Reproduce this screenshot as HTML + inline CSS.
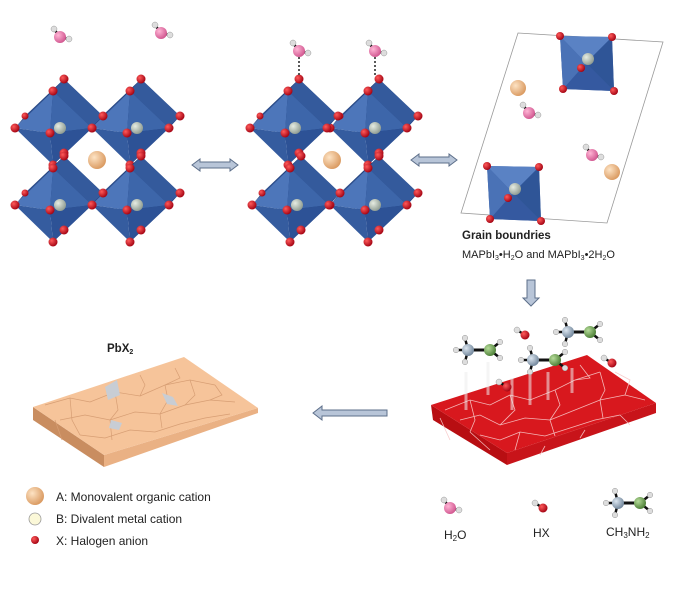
<!DOCTYPE html>
<html><head><meta charset="utf-8"><style>
html,body{margin:0;padding:0;background:#fff}
svg{display:block}
text{font-family:"Liberation Sans",Arial,sans-serif;fill:#222}
</style></head><body>
<svg width="690" height="599" viewBox="0 0 690 599" xmlns="http://www.w3.org/2000/svg">
<defs>
<radialGradient id="gA" cx="35%" cy="35%" r="70%"><stop offset="0" stop-color="#fde3c4"/><stop offset="1" stop-color="#d9985e"/></radialGradient>
<radialGradient id="gR" cx="35%" cy="35%" r="70%"><stop offset="0" stop-color="#ff5a5a"/><stop offset="1" stop-color="#a00010"/></radialGradient>
<radialGradient id="gB" cx="35%" cy="35%" r="70%"><stop offset="0" stop-color="#e6ece2"/><stop offset="1" stop-color="#8d9a90"/></radialGradient>
<radialGradient id="gP" cx="35%" cy="35%" r="70%"><stop offset="0" stop-color="#ffb5d5"/><stop offset="1" stop-color="#d0548e"/></radialGradient>
<radialGradient id="gC" cx="35%" cy="35%" r="70%"><stop offset="0" stop-color="#dce6f0"/><stop offset="1" stop-color="#6f8499"/></radialGradient>
<radialGradient id="gN" cx="35%" cy="35%" r="70%"><stop offset="0" stop-color="#b6dc9a"/><stop offset="1" stop-color="#4a7d34"/></radialGradient>
<g id="oct">
  <polygon points="-35,-12 4,-49 43,-12 4,25" fill="#24437e"/>
  <polygon points="-7,-37 4,-49 43,-12 32,0" fill="#345a9c"/>
  <polygon points="32,0 43,-12 4,25 -7,37" fill="#26478a"/>
  <polygon points="-45,0 -35,-12 -7,-37" fill="#2f5190"/>
  <polygon points="-45,0 -7,-37 -10,5" fill="#4d76ba"/>
  <polygon points="-7,-37 32,0 -10,5" fill="#3d66aa"/>
  <polygon points="32,0 -7,37 -10,5" fill="#2d5296"/>
  <polygon points="-7,37 -45,0 -10,5" fill="#355c9f"/>
  <circle cx="0" cy="0" r="6" fill="url(#gB)"/>
  <circle cx="-10" cy="5" r="4.5" fill="url(#gR)"/>
  <circle cx="-45" cy="0" r="4.5" fill="url(#gR)"/>
  <circle cx="-7" cy="-37" r="4.5" fill="url(#gR)"/>
  <circle cx="4" cy="-49" r="4.5" fill="url(#gR)"/>
  <circle cx="32" cy="0" r="4.5" fill="url(#gR)"/>
  <circle cx="43" cy="-12" r="4.5" fill="url(#gR)"/>
  <circle cx="-7" cy="37" r="4.5" fill="url(#gR)"/>
  <circle cx="4" cy="25" r="4.5" fill="url(#gR)"/>
  <circle cx="-35" cy="-12" r="3.5" fill="url(#gR)"/>
</g>
<g id="sq">
  <polygon points="-26,-27 26,-26 28,28 -23,26" fill="#3a61a6"/>
  <polygon points="-26,-27 26,-26 0,0" fill="#5a82c4"/>
  <polygon points="26,-26 28,28 0,0" fill="#2f5597"/>
  <polygon points="28,28 -23,26 0,0" fill="#3559a0"/>
  <polygon points="-23,26 -26,-27 0,0" fill="#4a72b6"/>
  <circle cx="2" cy="-4" r="6" fill="url(#gB)"/>
  <circle cx="-5" cy="5" r="4" fill="url(#gR)"/>
  <circle cx="-26" cy="-27" r="4" fill="url(#gR)"/>
  <circle cx="26" cy="-26" r="4" fill="url(#gR)"/>
  <circle cx="28" cy="28" r="4" fill="url(#gR)"/>
  <circle cx="-23" cy="26" r="4" fill="url(#gR)"/>
</g>
<g id="h2o">
  <line x1="0" y1="0" x2="-6" y2="-8" stroke="#111" stroke-width="2.5"/>
  <line x1="0" y1="0" x2="9" y2="2" stroke="#111" stroke-width="2.5"/>
  <circle cx="-6" cy="-8" r="3" fill="#ddd" stroke="#999" stroke-width=".5"/>
  <circle cx="9" cy="2" r="3" fill="#ddd" stroke="#999" stroke-width=".5"/>
  <circle cx="0" cy="0" r="6" fill="url(#gP)"/>
</g>
<g id="hx">
  <line x1="-8" y1="-5" x2="0" y2="0" stroke="#111" stroke-width="2.5"/>
  <circle cx="-8" cy="-5" r="3" fill="#ddd" stroke="#999" stroke-width=".5"/>
  <circle cx="0" cy="0" r="4.5" fill="url(#gR)"/>
</g>
<g id="ma">
  <line x1="0" y1="0" x2="22" y2="0" stroke="#111" stroke-width="3"/>
  <line x1="0" y1="0" x2="-12" y2="0" stroke="#111" stroke-width="2.5"/>
  <line x1="0" y1="0" x2="-3" y2="-12" stroke="#111" stroke-width="2.5"/>
  <line x1="0" y1="0" x2="-3" y2="12" stroke="#111" stroke-width="2.5"/>
  <line x1="22" y1="0" x2="32" y2="-8" stroke="#111" stroke-width="2.5"/>
  <line x1="22" y1="0" x2="32" y2="8" stroke="#111" stroke-width="2.5"/>
  <circle cx="-12" cy="0" r="2.8" fill="#ddd" stroke="#999" stroke-width=".5"/>
  <circle cx="-3" cy="-12" r="2.8" fill="#ddd" stroke="#999" stroke-width=".5"/>
  <circle cx="-3" cy="12" r="2.8" fill="#ddd" stroke="#999" stroke-width=".5"/>
  <circle cx="32" cy="-8" r="2.8" fill="#ddd" stroke="#999" stroke-width=".5"/>
  <circle cx="32" cy="8" r="2.8" fill="#ddd" stroke="#999" stroke-width=".5"/>
  <circle cx="0" cy="0" r="6" fill="url(#gC)"/>
  <circle cx="22" cy="0" r="6" fill="url(#gN)"/>
</g>
<g id="darr">
  <polygon points="0,0 8,-6 8,-3 38,-3 38,-6 46,0 38,6 38,3 8,3 8,6" fill="#b8c5d8" stroke="#5d6f8a" stroke-width="1"/>
</g>
</defs>

<use href="#oct" x="137" y="128"/>
<use href="#oct" x="60" y="128"/>
<use href="#oct" x="137" y="205"/>
<use href="#oct" x="60" y="205"/>
<circle cx="97" cy="160" r="9" fill="url(#gA)"/>
<use href="#h2o" x="60" y="37"/>
<use href="#h2o" x="161" y="33"/>

<use href="#darr" x="192" y="165"/>

<use href="#oct" x="375" y="128"/>
<use href="#oct" x="295" y="128"/>
<use href="#oct" x="375" y="205"/>
<use href="#oct" x="297" y="205"/>
<circle cx="332" cy="160" r="9" fill="url(#gA)"/>
<line x1="299" y1="57" x2="299" y2="76" stroke="#222" stroke-width="1.5" stroke-dasharray="2,2"/>
<line x1="375" y1="57" x2="375" y2="76" stroke="#222" stroke-width="1.5" stroke-dasharray="2,2"/>
<use href="#h2o" x="299" y="51"/>
<use href="#h2o" x="375" y="51"/>

<use href="#darr" x="411" y="160"/>

<polygon points="518,33 663,42 607,223 461,213" fill="none" stroke="#999" stroke-width="0.8"/>
<use href="#sq" x="586" y="63"/>
<use href="#sq" x="513" y="193"/>
<circle cx="518" cy="88" r="8" fill="url(#gA)"/>
<circle cx="612" cy="172" r="8" fill="url(#gA)"/>
<use href="#h2o" x="529" y="113"/>
<use href="#h2o" x="592" y="155"/>
<text x="462" y="239" font-size="11.5" font-weight="bold">Grain boundries</text>
<text x="462" y="258" font-size="11">MAPbI<tspan font-size="7" dy="2">3</tspan><tspan dy="-2">•H</tspan><tspan font-size="7" dy="2">2</tspan><tspan dy="-2">O and MAPbI</tspan><tspan font-size="7" dy="2">3</tspan><tspan dy="-2">•2H</tspan><tspan font-size="7" dy="2">2</tspan><tspan dy="-2">O</tspan></text>

<polygon points="527,280 535,280 535,298 539,298 531,306 523,298 527,298" fill="#b8c5d8" stroke="#5d6f8a"/>

<polygon points="431,405 507,453 507,465 433,420" fill="#b80e12"/>
<polygon points="507,453 656,403 656,413 507,465" fill="#c8141a"/>
<polygon points="431,405 587,355 656,403 507,453" fill="#d8181e"/>
<g stroke="#f8c8c8" stroke-width="0.8" fill="none" opacity="0.9">
<polyline points="445,410 470,400 490,405 510,395 530,400 555,390 575,380 600,372"/>
<polyline points="460,420 480,415 500,425 525,418 550,420 575,410 600,400 625,395 645,400"/>
<polyline points="480,435 500,440 520,432 545,436 570,428 595,420 620,415"/>
<polyline points="470,400 475,420 470,432"/><polyline points="510,395 515,410 500,425"/>
<polyline points="555,390 560,405 550,420 555,436"/><polyline points="600,372 605,390 600,400 603,418"/>
<polyline points="580,365 590,378 575,380"/><polyline points="625,395 630,380 615,372"/>
<polyline points="440,418 450,440"/><polyline points="470,432 490,450"/><polyline points="520,432 515,450"/>
<polyline points="540,455 545,446"/><polyline points="580,438 585,430"/><polyline points="620,415 630,425"/>
</g>
<g stroke="#eee" stroke-width="3" fill="none" opacity="0.55">
<line x1="466" y1="410" x2="466" y2="372"/><line x1="488" y1="395" x2="488" y2="362"/>
<line x1="512" y1="410" x2="512" y2="378"/><line x1="530" y1="405" x2="530" y2="370"/>
<line x1="548" y1="400" x2="548" y2="372"/><line x1="572" y1="393" x2="572" y2="368"/>
</g>
<use href="#ma" x="468" y="350"/>
<use href="#ma" x="568" y="332"/>
<use href="#ma" x="533" y="360"/>
<use href="#hx" x="525" y="335"/>
<use href="#hx" x="612" y="363"/>
<use href="#hx" x="507" y="387"/>

<polygon points="313,413 322,406 322,410 387,410 387,416 322,416 322,420" fill="#b8c5d8" stroke="#5d6f8a"/>

<text x="107" y="352" font-size="11.5" font-weight="bold">PbX<tspan font-size="7" dy="2">2</tspan></text>
<polygon points="33,407 104,455 104,467 33,420" fill="#c98d60"/>
<polygon points="104,455 258,408 258,413 104,467" fill="#eab184"/>
<polygon points="33,407 184,357 258,408 104,455" fill="#f6c49a"/>
<g stroke="#d79e74" stroke-width="0.7" fill="none">
<polyline points="45,405 70,398 90,402 115,392 140,396 165,385 190,380 215,385"/>
<polyline points="60,420 85,415 110,420 135,412 160,414 185,405 210,400 235,402"/>
<polyline points="80,435 105,438 130,430 155,432 180,424 205,418 230,414"/>
<polyline points="70,398 72,420 80,435"/><polyline points="115,392 118,410 110,420 112,440"/>
<polyline points="165,385 168,400 160,414 162,428"/><polyline points="190,380 195,395 185,405"/>
<polyline points="140,375 145,385 140,396"/><polyline points="175,368 180,378 165,385"/>
<polyline points="215,385 222,395 210,400"/><polyline points="55,420 62,440"/>
</g>
<polygon points="105,387 117,380 120,395 108,400" fill="#c8cdd4"/>
<polygon points="162,393 173,397 178,406 167,404" fill="#c8cdd4"/>
<polygon points="111,420 122,423 119,430 109,428" fill="#c8cdd4"/>

<circle cx="35" cy="496" r="9" fill="url(#gA)"/>
<circle cx="35" cy="519" r="6" fill="#fbf8d8" stroke="#999" stroke-width="0.8"/>
<circle cx="35" cy="540" r="4" fill="url(#gR)"/>
<text x="56" y="501" font-size="12">A:  Monovalent organic cation</text>
<text x="56" y="523" font-size="12">B:  Divalent metal cation</text>
<text x="56" y="545" font-size="12">X:  Halogen anion</text>

<use href="#h2o" x="450" y="508"/>
<text x="444" y="539" font-size="12">H<tspan font-size="8" dy="2">2</tspan><tspan dy="-2">O</tspan></text>
<use href="#hx" x="543" y="508"/>
<text x="533" y="537" font-size="12">HX</text>
<use href="#ma" x="618" y="503"/>
<text x="606" y="536" font-size="12">CH<tspan font-size="8" dy="2">3</tspan><tspan dy="-2">NH</tspan><tspan font-size="8" dy="2">2</tspan></text>
</svg>
</body></html>
